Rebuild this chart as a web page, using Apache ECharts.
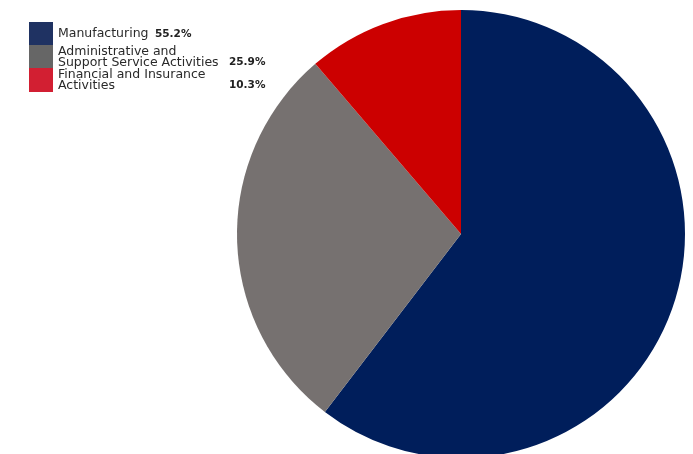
<!DOCTYPE html>
<html><head><meta charset="utf-8">
<script src="https://cdn.jsdelivr.net/npm/echarts@6/dist/echarts.min.js"></script>
<style>html,body{margin:0;padding:0;background:#fff}#c{width:693px;height:454px}</style>
</head><body><div id="c"></div>
<script>
const categories = ['Manufacturing', 'Administrative and Support Service Activities', 'Financial and Insurance Activities'];
const values = [55.2, 25.9, 10.3];
const pctLabels = ['55.2%', '25.9%', '10.3%'];
const sliceColors = ['#001e5b', '#767170', '#cc0000'];
const legendColors = ['#1f3262', '#666666', '#d21f32'];

const chart = echarts.init(document.getElementById('c'), null, {renderer: 'canvas'});
const font = '"DejaVu Sans", sans-serif';
chart.setOption({
  animation: false,
  legend: {
    orient: 'vertical', left: 29, top: 22, padding: 0,
    itemWidth: 24, itemHeight: 24, itemGap: -1, itemTextGap: 5,
    icon: 'rect',
    data: categories.map((c, i) => ({name: c, itemStyle: {color: legendColors[i]}})),
    formatter: function (name) {
      const i = categories.indexOf(name);
      if (i === 0) return '{m|Manufacturing}{p|' + pctLabels[0] + '}';
      if (i === 1) return '{a|Administrative and}\n{a|Support Service Activities}{p|' + pctLabels[1] + '}';
      return '{a|Financial and Insurance}\n{a|Activities}{p|' + pctLabels[2] + '}';
    },
    textStyle: {
      fontFamily: font, fontSize: 12.5, color: '#2a2a2a', lineHeight: 11,
      rich: {
        m: {fontFamily: font, fontSize: 12.5, color: '#2a2a2a', width: 97, lineHeight: 11},
        a: {fontFamily: font, fontSize: 12.5, color: '#2a2a2a', width: 171, lineHeight: 11},
        p: {fontFamily: font, fontSize: 10.5, fontWeight: 'bold', color: '#222', lineHeight: 11}
      }
    },
    selectedMode: false
  },
  series: [{
    type: 'pie',
    center: [461, 234], radius: 224,
    startAngle: 90, clockwise: true,
    label: {show: false}, labelLine: {show: false},
    emphasis: {disabled: true},
    data: categories.map((c, i) => ({name: c, value: values[i], itemStyle: {color: sliceColors[i]}}))
  }]
});
</script></body></html>
